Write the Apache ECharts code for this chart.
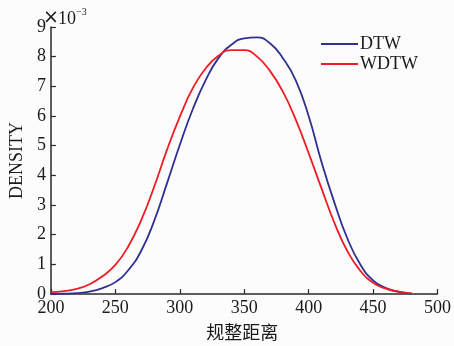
<!DOCTYPE html>
<html>
<head>
<meta charset="utf-8">
<script src="https://cdn.jsdelivr.net/npm/echarts@6/dist/echarts.min.js"></script>
<style>
html,body{margin:0;padding:0;background:#fcfcfc;}
#c{width:454px;height:346px;}
</style>
</head>
<body>
<div id="c"></div>
<script>
// distances (x), density values in units of 1e-3
const xValues = [200,210,220,230,240,250,260,270,280,290,300,310,320,330,340,350,360,370,380,390,400,410,420,430,440,450,460,470,480];
const dtwDensity = [0.0,0.01,0.03,0.08,0.2,0.4,0.8,1.45,2.45,3.72,5.02,6.22,7.2,7.95,8.4,8.62,8.65,8.45,7.95,7.2,6.0,4.45,3.08,1.88,1.0,0.46,0.2,0.07,0.01];
const wdtwDensity = [0.06,0.1,0.17,0.33,0.6,0.98,1.6,2.48,3.6,4.85,5.97,6.93,7.6,8.03,8.22,8.22,8.0,7.52,6.82,5.88,4.75,3.56,2.4,1.45,0.79,0.38,0.18,0.08,0.02];
const xTicks = [200,250,300,350,400,450,500];
const yTicks = [0,1,2,3,4,5,6,7,8,9];
const seriesNames = ['DTW','WDTW'];

const chart = echarts.init(document.getElementById('c'), null, {renderer:'canvas'});
const serif = '"Liberation Serif","Times New Roman",serif';
const axisColor = '#2a2a2a';
const txt = '#1a1a1a';
chart.setOption({
  backgroundColor:'#fcfcfc',
  animation:false,
  grid:{left:44,right:16,top:27,bottom:49},
  legend:{
    data:seriesNames,
    orient:'vertical',
    left:321, top:35, padding:0,
    icon:'rect',
    itemWidth:37, itemHeight:2, itemGap:2,
    textStyle:{fontFamily:serif,fontSize:18,lineHeight:18,color:txt,padding:[0,0,0,-3]}
  },
  xAxis:{
    type:'value', min:xTicks[0], max:xTicks[xTicks.length-1], interval:50,
    name:'规整距离', nameLocation:'middle', nameGap:29,
    nameTextStyle:{fontFamily:'"Noto Sans CJK SC",sans-serif',fontSize:18,color:txt,padding:[0,4,0,0]},
    axisLine:{lineStyle:{color:axisColor,width:1.5}},
    axisTick:{inside:true,length:5,lineStyle:{color:axisColor,width:1.2}},
    axisLabel:{fontFamily:serif,fontSize:18,color:txt,margin:5},
    splitLine:{show:false}
  },
  yAxis:{
    type:'value', min:yTicks[0], max:yTicks[yTicks.length-1], interval:1,
    name:'DENSITY', nameLocation:'middle', nameGap:23, nameRotate:90,
    nameTextStyle:{fontFamily:serif,fontSize:18,color:txt},
    axisLine:{show:true,lineStyle:{color:axisColor,width:1.5}},
    axisTick:{show:true,inside:true,length:5,lineStyle:{color:axisColor,width:1.2}},
    axisLabel:{fontFamily:serif,fontSize:18,color:txt,margin:5},
    splitLine:{show:false}
  },
  graphic:[
    {type:'text', x:43, y:18, style:{text:'×', fontFamily:'"DejaVu Sans",sans-serif', fontSize:19, fill:txt, verticalAlign:'middle'}},
    {type:'text', x:58, y:19, style:{text:'10', fontFamily:serif, fontSize:18, fill:txt, verticalAlign:'middle'}},
    {type:'text', x:76, y:12, style:{text:'−3', fontFamily:serif, fontSize:10, fill:txt, verticalAlign:'middle'}}
  ],
  series:[
    {name:seriesNames[0],type:'line',smooth:true,showSymbol:false,symbol:'none',
     lineStyle:{color:'#2e3192',width:1.8},itemStyle:{color:'#2e3192'},
     data:xValues.map((x,i)=>[x,dtwDensity[i]])},
    {name:seriesNames[1],type:'line',smooth:true,showSymbol:false,symbol:'none',
     lineStyle:{color:'#ee1c25',width:1.8},itemStyle:{color:'#ee1c25'},
     data:xValues.map((x,i)=>[x,wdtwDensity[i]])}
  ]
});
</script>
</body>
</html>
